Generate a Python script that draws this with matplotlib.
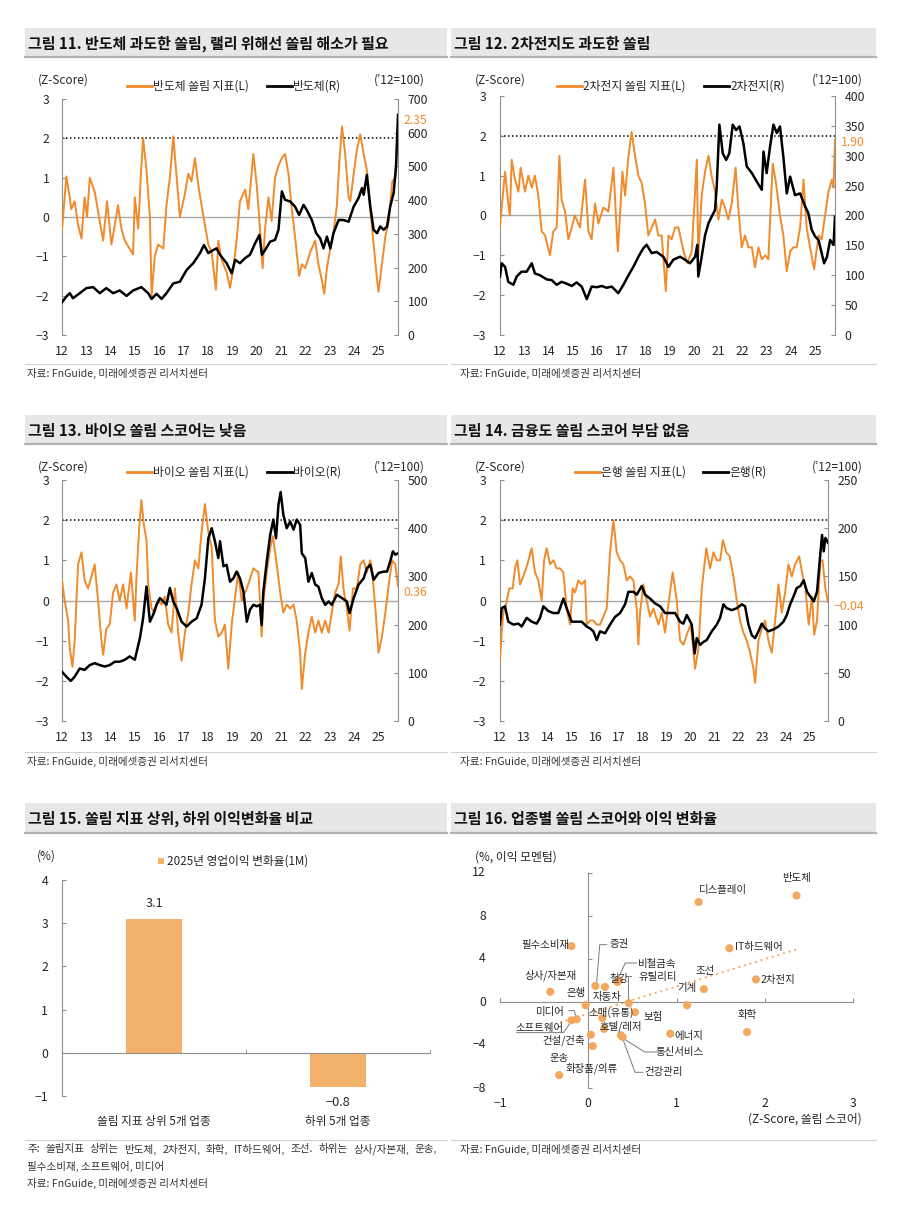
"""Sector crowding dashboard: z-score vs index panels, earnings bar, crowding scatter."""
import numpy as np
import matplotlib
matplotlib.use("Agg")
import matplotlib.pyplot as plt
from matplotlib.lines import Line2D
from matplotlib.patches import Rectangle
from matplotlib.transforms import blended_transform_factory as blend

plt.rcParams["font.family"] = ["Noto Sans CJK KR", "DejaVu Sans"]
plt.rcParams["axes.unicode_minus"] = True

W, H = 900, 1218
ORANGE = "#F08A2A"
LIGHT = "#F3B16C"
DOT = "#F2A95F"
AXIS = "#8f8f8f"
INK = "#262626"

# ---- 그림 11: 반도체 쏠림 지표(L, z-score) / 반도체 지수(R, '12=100) ----
semi_z = [(12.00, -0.32), (12.18, 1.03), (12.32, 0.50), (12.38, 0.20), (12.52, 0.40), (12.66, -0.20),
          (12.80, -0.55), (12.93, 0.50), (13.03, 0.00), (13.14, 1.00), (13.34, 0.65), (13.52, 0.00),
          (13.69, -0.60), (13.85, 0.40), (14.03, -0.70), (14.17, -0.20), (14.30, 0.30), (14.44, -0.30),
          (14.58, -0.60), (14.72, -0.75), (14.92, -0.95), (14.99, 0.50), (15.13, -0.30), (15.26, 1.30),
          (15.33, 2.00), (15.47, 1.20), (15.61, 0.00), (15.68, -2.00), (15.81, -1.00), (15.95, -0.70),
          (16.16, -0.80), (16.29, 0.30), (16.43, 1.00), (16.57, 2.05), (16.71, 1.00), (16.84, 0.00),
          (17.05, 0.60), (17.19, 1.10), (17.32, 0.90), (17.46, 1.50), (17.60, 0.80), (17.73, 0.30),
          (17.87, -0.20), (18.01, -0.70), (18.15, -0.90), (18.32, -1.85), (18.42, -0.60), (18.56, -1.10),
          (18.76, -1.40), (18.90, -1.80), (19.04, -1.30), (19.17, -0.60), (19.31, 0.40), (19.52, 0.70),
          (19.65, 0.20), (19.86, 1.60), (20.00, 0.80), (20.13, -0.30), (20.24, -1.30), (20.34, -0.30),
          (20.48, 0.50), (20.61, -0.10), (20.75, 1.00), (20.89, 1.30), (21.03, 1.50), (21.16, 1.60),
          (21.30, 1.10), (21.44, 0.20), (21.57, -0.50), (21.74, -1.50), (21.85, -1.20), (21.99, -1.30),
          (22.19, -0.90), (22.40, -0.60), (22.53, -1.20), (22.67, -1.60), (22.77, -1.95), (22.88, -1.30),
          (23.02, -0.80), (23.15, -0.40), (23.29, 0.30), (23.40, 1.50), (23.50, 2.30), (23.63, 1.60),
          (23.77, 0.50), (23.84, 0.40), (23.98, 1.10), (24.11, 1.70), (24.25, 2.10), (24.39, 1.60),
          (24.52, 1.20), (24.66, 0.20), (24.80, -0.70), (24.94, -1.60), (25.00, -1.90), (25.14, -1.20),
          (25.28, -0.50), (25.42, -0.10), (25.56, 0.90), (25.69, 1.00), (25.80, 2.35)]
semi_idx = [(12.00, 97), (12.18, 114), (12.32, 124), (12.45, 109), (12.73, 124), (13.00, 139),
            (13.28, 142), (13.55, 124), (13.82, 139), (14.10, 124), (14.37, 132), (14.65, 116),
            (14.92, 132), (15.26, 142), (15.54, 124), (15.68, 107), (15.88, 122), (16.09, 107),
            (16.29, 124), (16.57, 153), (16.84, 158), (17.12, 193), (17.39, 213), (17.67, 243),
            (17.83, 267), (18.01, 243), (18.21, 252), (18.35, 257), (18.49, 238), (18.76, 213),
            (18.97, 183), (19.11, 223), (19.31, 213), (19.52, 228), (19.72, 238), (19.93, 272),
            (20.11, 297), (20.21, 238), (20.34, 252), (20.55, 277), (20.75, 282), (20.89, 312),
            (21.03, 426), (21.16, 401), (21.37, 396), (21.57, 381), (21.74, 356), (21.92, 386),
            (22.05, 371), (22.26, 341), (22.44, 302), (22.60, 287), (22.74, 257), (22.88, 292),
            (23.02, 257), (23.15, 302), (23.36, 341), (23.56, 341), (23.77, 336), (23.98, 381),
            (24.18, 406), (24.32, 436), (24.39, 416), (24.52, 475), (24.66, 381), (24.80, 312),
            (24.94, 302), (25.07, 322), (25.21, 312), (25.35, 322), (25.48, 381), (25.62, 421),
            (25.72, 500), (25.80, 653)]

# ---- 그림 12: 2차전지 ----
batt_z = [(12.00, -0.30), (12.07, 0.20), (12.21, 1.10), (12.34, 0.30), (12.41, 0.00), (12.48, 1.40),
          (12.62, 0.90), (12.76, 0.60), (12.85, 1.20), (13.03, 0.60), (13.17, 1.00), (13.31, 0.70),
          (13.44, 1.00), (13.58, 0.50), (13.72, -0.40), (13.86, -0.50), (14.06, -1.00), (14.20, -0.40),
          (14.34, -0.30), (14.45, 1.50), (14.54, 0.40), (14.68, 0.10), (14.82, -0.60), (14.96, -0.30),
          (15.09, 0.00), (15.30, -0.30), (15.51, 0.90), (15.65, -0.40), (15.78, -0.60), (15.92, 0.30),
          (16.06, -0.20), (16.26, 0.20), (16.47, 0.10), (16.68, 1.20), (16.86, -0.90), (16.95, 0.00),
          (17.05, 1.10), (17.16, 0.50), (17.30, 1.50), (17.43, 2.10), (17.57, 1.50), (17.71, 1.00),
          (17.85, 0.80), (17.98, 0.30), (18.12, -0.50), (18.26, -0.30), (18.40, -0.10), (18.53, -0.50),
          (18.67, -0.50), (18.84, -1.90), (18.95, -0.50), (19.08, -0.60), (19.22, -0.30), (19.36, -0.30),
          (19.57, -0.90), (19.73, -1.20), (19.91, -0.90), (20.12, 1.40), (20.18, -1.00), (20.32, 0.50),
          (20.46, 1.10), (20.60, 1.50), (20.73, 1.00), (20.87, 0.60), (21.01, -0.10), (21.15, 0.40),
          (21.28, 0.20), (21.42, -0.10), (21.56, 0.30), (21.72, 1.20), (21.83, 0.20), (21.97, -0.80),
          (22.11, -0.50), (22.25, -0.80), (22.39, -0.80), (22.52, -1.30), (22.66, -0.80), (22.80, -1.10),
          (22.94, -1.00), (23.07, -1.10), (23.25, 1.30), (23.39, 0.80), (23.55, 0.00), (23.69, -0.50),
          (23.83, -1.40), (23.97, -0.90), (24.10, -0.80), (24.24, -0.80), (24.38, -0.30), (24.52, 0.90),
          (24.65, -0.30), (24.79, -0.80), (24.96, -1.35), (25.14, -0.50), (25.27, -0.60), (25.41, 0.00),
          (25.55, 0.60), (25.69, 0.90), (25.76, 0.70), (25.82, 1.90)]
batt_idx = [(12.00, 98), (12.07, 120), (12.21, 114), (12.34, 89), (12.55, 84), (12.69, 98), (12.89, 106),
            (13.10, 106), (13.31, 120), (13.44, 103), (13.65, 100), (13.93, 93), (14.13, 92), (14.34, 84),
            (14.54, 89), (14.75, 86), (14.96, 82), (15.16, 88), (15.37, 81), (15.58, 60), (15.78, 81),
            (15.99, 80), (16.20, 82), (16.40, 79), (16.61, 81), (16.88, 70), (17.09, 84), (17.30, 100),
            (17.50, 114), (17.71, 131), (17.91, 145), (18.05, 151), (18.26, 137), (18.46, 139),
            (18.74, 131), (18.95, 114), (19.15, 126), (19.43, 131), (19.63, 126), (19.84, 120),
            (20.05, 131), (20.14, 151), (20.18, 98), (20.32, 131), (20.46, 167), (20.60, 187), (20.73, 198),
            (20.87, 209), (20.94, 248), (21.05, 352), (21.19, 304), (21.33, 293), (21.46, 304), (21.60, 352),
            (21.74, 343), (21.88, 349), (22.04, 321), (22.18, 282), (22.39, 271), (22.59, 257), (22.80, 243),
            (22.87, 307), (23.00, 271), (23.14, 315), (23.28, 352), (23.42, 338), (23.55, 349), (23.69, 298),
            (23.83, 237), (23.97, 265), (24.17, 234), (24.38, 237), (24.59, 215), (24.72, 204), (24.86, 176),
            (25.00, 165), (25.14, 159), (25.27, 137), (25.37, 120), (25.49, 131), (25.62, 159), (25.76, 151),
            (25.82, 198)]

# ---- 그림 13: 바이오 ----
bio_z = [(12.00, 0.50), (12.11, 0.00), (12.25, -0.50), (12.32, -1.20), (12.43, -1.65), (12.52, -1.00),
         (12.66, 0.90), (12.80, 1.20), (12.93, 0.50), (13.07, 0.30), (13.21, 0.60), (13.34, 0.90),
         (13.48, 0.00), (13.62, -1.00), (13.69, -1.35), (13.82, -0.70), (13.96, -0.60), (14.10, 0.20),
         (14.24, 0.40), (14.37, 0.00), (14.51, 0.40), (14.65, -0.20), (14.83, 0.70), (14.99, -0.50),
         (15.06, 0.60), (15.17, 1.80), (15.26, 2.50), (15.36, 1.90), (15.47, 1.50), (15.54, 0.40),
         (15.68, -0.20), (15.81, -0.30), (15.95, 0.00), (16.09, -0.10), (16.22, 0.10), (16.36, -0.60),
         (16.50, -0.80), (16.64, 0.30), (16.77, -0.80), (16.91, -1.50), (17.05, -0.80), (17.19, -0.30),
         (17.32, 0.40), (17.46, 1.00), (17.60, 0.80), (17.73, 1.70), (17.87, 2.40), (18.01, 1.70),
         (18.15, 1.30), (18.28, -0.50), (18.42, -0.90), (18.56, -0.80), (18.69, -0.60), (18.83, -1.70),
         (18.97, -0.60), (19.11, 0.10), (19.24, 0.70), (19.38, 0.00), (19.52, 0.20), (19.65, 0.40),
         (19.86, 0.80), (20.07, 0.70), (20.20, -0.90), (20.27, 0.00), (20.41, 0.70), (20.55, 1.30),
         (20.66, 1.60), (20.82, 0.90), (20.96, 0.20), (21.09, -0.30), (21.23, -0.10), (21.37, -0.20),
         (21.51, -0.10), (21.64, -0.50), (21.78, -1.30), (21.85, -2.20), (21.99, -1.30), (22.12, -0.80),
         (22.26, -0.40), (22.40, -0.80), (22.53, -0.50), (22.67, -0.80), (22.81, -0.50), (22.95, -0.80),
         (23.08, -0.30), (23.22, 0.20), (23.36, 0.40), (23.45, 1.10), (23.56, 0.30), (23.70, -0.20),
         (23.81, -0.75), (23.95, 0.30), (24.11, 0.30), (24.25, 0.90), (24.39, 1.00), (24.52, 0.70),
         (24.66, 1.00), (24.73, 0.80), (24.87, -0.20), (25.00, -1.30), (25.14, -0.90), (25.28, -0.30),
         (25.42, 0.40), (25.56, 1.00), (25.69, 0.90), (25.80, 0.36)]
bio_idx = [(12.00, 102), (12.18, 92), (12.36, 83), (12.52, 92), (12.73, 109), (12.93, 106), (13.14, 116),
           (13.34, 120), (13.55, 116), (13.76, 113), (13.96, 116), (14.17, 123), (14.37, 123), (14.58, 127),
           (14.78, 134), (14.99, 127), (15.20, 172), (15.33, 213), (15.47, 279), (15.61, 206), (15.74, 220),
           (15.88, 241), (16.02, 255), (16.16, 248), (16.29, 241), (16.43, 276), (16.57, 248), (16.71, 234),
           (16.91, 206), (17.12, 196), (17.32, 206), (17.53, 213), (17.73, 241), (17.87, 296), (18.01, 379),
           (18.15, 400), (18.28, 373), (18.42, 338), (18.49, 373), (18.63, 321), (18.76, 324), (18.90, 289),
           (19.04, 296), (19.17, 310), (19.31, 296), (19.45, 269), (19.59, 206), (19.72, 231), (19.86, 241),
           (20.00, 238), (20.13, 241), (20.20, 199), (20.27, 269), (20.41, 331), (20.55, 386), (20.68, 418),
           (20.79, 379), (20.89, 449), (20.98, 475), (21.09, 428), (21.23, 400), (21.37, 414), (21.51, 397),
           (21.64, 418), (21.78, 407), (21.85, 348), (21.99, 338), (22.12, 289), (22.26, 307), (22.40, 283),
           (22.53, 279), (22.67, 255), (22.81, 241), (22.95, 248), (23.08, 241), (23.29, 262), (23.50, 255),
           (23.70, 248), (23.81, 224), (23.98, 255), (24.18, 283), (24.39, 296), (24.52, 317), (24.66, 324),
           (24.80, 293), (25.00, 307), (25.21, 310), (25.35, 310), (25.48, 331), (25.59, 352), (25.69, 345),
           (25.80, 348)]

# ---- 그림 14: 은행 ----
bank_z = [(12.00, -1.50), (12.07, -0.80), (12.14, -0.30), (12.25, -0.10), (12.39, 0.30), (12.53, 0.30),
          (12.63, 0.80), (12.73, 1.00), (12.84, 0.40), (12.98, 0.60), (13.15, 0.90), (13.33, 1.30),
          (13.47, 0.70), (13.61, 0.50), (13.75, 0.00), (13.85, 1.00), (13.96, 1.30), (14.10, 0.90),
          (14.24, 1.00), (14.38, 0.80), (14.52, 0.80), (14.66, 0.70), (14.80, -0.20), (14.94, -0.60),
          (15.05, 0.30), (15.15, 0.20), (15.29, 0.50), (15.43, 0.40), (15.57, 0.50), (15.64, -0.60),
          (15.78, -0.50), (15.92, -0.50), (16.06, -0.60), (16.20, -0.60), (16.34, -0.40), (16.48, -0.20),
          (16.62, 1.20), (16.76, 2.00), (16.90, 1.20), (17.04, 1.00), (17.18, 0.90), (17.32, 0.50),
          (17.46, 0.60), (17.60, 0.50), (17.74, -0.20), (17.81, -1.10), (17.88, -0.30), (18.02, 0.40),
          (18.16, 0.00), (18.30, -0.40), (18.44, -0.20), (18.65, -0.60), (18.79, -0.30), (18.93, -0.80),
          (19.07, -0.10), (19.25, 0.70), (19.42, 0.00), (19.56, -1.00), (19.70, -1.10), (19.87, -0.80),
          (20.01, -0.60), (20.19, -1.70), (20.33, -1.20), (20.47, 0.30), (20.66, 1.30), (20.82, 0.80),
          (20.96, 1.20), (21.10, 1.00), (21.24, 1.00), (21.36, 1.50), (21.50, 1.20), (21.64, 1.10),
          (21.80, 0.60), (21.94, 0.00), (22.08, -0.50), (22.22, -0.80), (22.36, -1.00), (22.50, -1.30),
          (22.64, -1.70), (22.71, -2.05), (22.85, -1.00), (22.99, -0.70), (23.13, -0.50), (23.27, -1.00),
          (23.41, -1.30), (23.55, -0.50), (23.69, 0.40), (23.83, -0.30), (23.97, 0.20), (24.11, 0.90),
          (24.25, 0.60), (24.39, 0.90), (24.56, 1.10), (24.68, 0.70), (24.82, 0.30), (24.96, -0.60),
          (25.10, 0.10), (25.19, -0.85), (25.31, -0.50), (25.45, 1.00), (25.54, 1.00), (25.66, 0.30),
          (25.77, -0.04)]
bank_idx = [(12.00, 100), (12.07, 117), (12.21, 119), (12.35, 103), (12.56, 100), (12.77, 101), (12.91, 98),
            (13.12, 107), (13.33, 103), (13.54, 101), (13.68, 107), (13.82, 119), (14.03, 114), (14.24, 112),
            (14.45, 112), (14.66, 127), (14.80, 117), (15.01, 103), (15.22, 103), (15.43, 103), (15.64, 98),
            (15.78, 96), (15.92, 93), (16.06, 84), (16.20, 93), (16.41, 91), (16.62, 100), (16.83, 108),
            (17.04, 112), (17.25, 121), (17.39, 134), (17.60, 134), (17.74, 131), (17.95, 140), (18.09, 131),
            (18.30, 127), (18.51, 122), (18.72, 119), (18.93, 112), (19.14, 112), (19.35, 112), (19.56, 103),
            (19.70, 101), (19.84, 110), (20.05, 100), (20.17, 70), (20.26, 86), (20.40, 79), (20.54, 82),
            (20.68, 84), (20.89, 93), (21.10, 100), (21.24, 107), (21.38, 121), (21.52, 117), (21.73, 115),
            (21.94, 117), (22.15, 121), (22.29, 119), (22.43, 100), (22.57, 89), (22.71, 86), (22.85, 93),
            (22.99, 101), (23.13, 96), (23.27, 93), (23.48, 95), (23.69, 98), (23.90, 103), (24.04, 110),
            (24.18, 121), (24.32, 129), (24.46, 138), (24.61, 140), (24.75, 146), (24.89, 134), (25.03, 129),
            (25.17, 124), (25.31, 134), (25.45, 174), (25.52, 193), (25.59, 176), (25.66, 190), (25.77, 185)]

# ---- 그림 15: 쏠림 상위/하위 5개 업종 2025년 영업이익 변화율(1M) ----
bar_groups = ["쏠림 지표 상위 5개 업종", "하위 5개 업종"]
bar_values = [3.1, -0.8]

# ---- 그림 16: 업종별 쏠림 스코어(x) vs 이익 모멘텀(y) ----
sectors = ["반도체", "디스플레이", "IT하드웨어", "2차전지", "조선", "기계", "화학", "에너지",
           "필수소비재", "상사/자본재", "증권", "자동차", "철강", "비철금속", "유틸리티", "은행",
           "소매(유통)", "보험", "미디어", "소프트웨어", "호텔/레저", "건설/건축", "화장품/의류",
           "통신서비스", "건강관리", "운송"]
crowd_z = [2.36, 1.25, 1.60, 1.90, 1.31, 1.12, 1.80, 0.93,
           -0.19, -0.43, 0.08, 0.19, 0.33, 0.35, 0.46, -0.03,
           0.16, 0.53, -0.13, -0.19, 0.18, 0.03, 0.05,
           0.37, 0.39, -0.33]
profit_mom = [9.9, 9.3, 5.0, 2.1, 1.2, -0.3, -2.8, -2.95,
              5.2, 0.95, 1.5, 1.4, 1.85, 2.0, -0.1, -0.3,
              -1.5, -0.95, -1.6, -1.7, -2.5, -3.05, -4.1,
              -3.1, -3.25, -6.8]
trend_x = [-0.32, 2.36]
trend_y = [-1.9, 4.9]


def rect(l, t, r, b):
    return [l / W, 1 - b / H, (r - l) / W, (b - t) / H]


def fx(x):
    return x / W


def fy(y):
    return 1 - y / H


fig = plt.figure(figsize=(W / 100, H / 100), dpi=100)
fig.patch.set_facecolor("white")
renderer = fig.canvas.get_renderer()


def header(x0, x1, y0, y1, title):
    fig.add_artist(Rectangle((fx(x0), fy(y1)), fx(x1) - fx(x0), fy(y0) - fy(y1),
                             transform=fig.transFigure, facecolor="#e7e7e7", edgecolor="none"))
    fig.add_artist(Line2D([fx(x0), fx(x1)], [fy(y1), fy(y1)], color="#b3b3b3", lw=1.6))
    fig.text(fx(x0 + 3), fy((y0 + y1) / 2 + 1), title, fontsize=10.8, fontweight="bold",
             color="#111111", va="center", ha="left")


def footer(x0, x1, yline, lines, justify_first=False):
    fig.add_artist(Line2D([fx(x0), fx(x1)], [fy(yline), fy(yline)], color="#d0d0d0", lw=0.8))
    for i, txt in enumerate(lines):
        y = fy(yline + 9 + 17 * i)
        if justify_first and i == 0:
            # spread the words over the full width, like the justified source note
            words = txt.split(" ")
            arts = [fig.text(0, y, w, fontsize=7.6, color="#333333", va="center", ha="left")
                    for w in words]
            widths = [a.get_window_extent(renderer).width for a in arts]
            gap = ((x1 - 12 - x0) - sum(widths)) / (len(words) - 1)
            pos = x0 + 2
            for a, wd in zip(arts, widths):
                a.set_x(fx(pos))
                pos += wd + gap
        else:
            fig.text(fx(x0 + 2), y, txt, fontsize=7.6, color="#333333", va="center", ha="left")


def legend_line(x, y, color, label):
    fig.add_artist(Line2D([fx(x), fx(x + 25)], [fy(y), fy(y)], color=color, lw=2.0))
    fig.text(fx(x + 26), fy(y), label, fontsize=8.5, color=INK, va="center", ha="left")


def ts_panel(box, z_pts, idx_pts, rmax, rstep, end, last_txt, last_dy, lpad):
    ax = fig.add_axes(rect(*box))
    ax2 = ax.twinx()
    zt, zv = zip(*z_pts)
    it, iv = zip(*idx_pts)
    ax.axhline(0, color="#a8a8a8", lw=1.0, zorder=1)
    ax.axhline(2, color="black", lw=1.1, ls=(0, (1, 1.6)), zorder=2)
    ax.plot(zt, zv, color=ORANGE, lw=1.4, zorder=3)
    ax2.plot(it, iv, color="black", lw=1.8)
    ax.set_xlim(12, end)
    ax.set_ylim(-3, 3)
    ax2.set_ylim(0, rmax)
    ax.set_yticks(range(-3, 4))
    ax2.set_yticks(np.arange(0, rmax + 1, rstep))
    ax.set_xticks(range(12, 26))
    ax.set_xticklabels([str(y) for y in range(12, 26)])
    for a in (ax, ax2):
        a.spines["top"].set_visible(False)
        a.spines["bottom"].set_visible(False)
    ax.spines["right"].set_visible(False)
    ax2.spines["left"].set_visible(False)
    ax.spines["left"].set_color(AXIS)
    ax2.spines["right"].set_color(AXIS)
    ax.tick_params(axis="y", direction="in", length=3, color=AXIS, pad=lpad,
                   labelsize=8.8, labelcolor=INK)
    ax.tick_params(axis="x", length=0, pad=7, labelsize=8.8, labelcolor=INK)
    ax2.tick_params(axis="y", direction="in", length=3, color=AXIS, pad=7,
                    labelsize=8.8, labelcolor=INK)
    ax.annotate(last_txt, xy=(1, zv[-1]), xycoords=("axes fraction", "data"),
                xytext=(4, last_dy), textcoords="offset points", color=ORANGE,
                fontsize=8.8, va="center", ha="left", annotation_clip=False)
    return ax


# ---- headers ----
header(25, 447, 28, 57, "그림 11. 반도체 과도한 쏠림, 랠리 위해선 쏠림 해소가 필요")
header(451, 876, 28, 57, "그림 12. 2차전지도 과도한 쏠림")
header(25, 447, 415, 444, "그림 13. 바이오 쏠림 스코어는 낮음")
header(451, 876, 415, 444, "그림 14. 금융도 쏠림 스코어 부담 없음")
header(25, 447, 803, 833, "그림 15. 쏠림 지표 상위, 하위 이익변화율 비교")
header(451, 876, 803, 833, "그림 16. 업종별 쏠림 스코어와 이익 변화율")

src = "자료: FnGuide, 미래에셋증권 리서치센터"

# ---- time-series panels ----
ts_panel((62, 99, 398, 335), semi_z, semi_idx, 700, 100, 25.80, "2.35", 3, 9)
ts_panel((500, 96, 835, 335), batt_z, batt_idx, 400, 50, 25.82, "1.90", -2, 10)
ts_panel((62, 480, 398, 721), bio_z, bio_idx, 500, 100, 25.80, "0.36", -5, 9)
ts_panel((500, 480, 828, 721), bank_z, bank_idx, 250, 50, 25.77, "\u22120.04", -3, 10)

for (xl, xr, y) in [(38, 425, 80), (475, 863, 80), (38, 425, 467), (475, 863, 467)]:
    fig.text(fx(xl), fy(y), "(Z-Score)", fontsize=8.5, color=INK, va="center", ha="left")
    fig.text(fx(xr), fy(y), "(\u201912=100)", fontsize=8.5, color=INK, va="center", ha="right")

legend_line(127, 86, ORANGE, "반도체 쏠림 지표(L)")
legend_line(267, 86, "black", "반도체(R)")
legend_line(557, 86, ORANGE, "2차전지 쏠림 지표(L)")
legend_line(704, 86, "black", "2차전지(R)")
legend_line(127, 472, ORANGE, "바이오 쏠림 지표(L)")
legend_line(267, 472, "black", "바이오(R)")
legend_line(575, 472, ORANGE, "은행 쏠림 지표(L)")
legend_line(703, 472, "black", "은행(R)")

footer(25, 447, 364, [src])
footer(451, 876, 364, ["   " + src])
footer(25, 447, 752, [src])
footer(451, 876, 752, ["   " + src])

# ---- 그림 15: bar ----
axb = fig.add_axes(rect(62, 880, 430, 1096))
xpos = np.arange(len(bar_values))
axb.bar(xpos, bar_values, width=0.30, color=LIGHT, zorder=2)
axb.set_xlim(-0.5, 1.5)
axb.set_ylim(-1, 4)
axb.spines["top"].set_visible(False)
axb.spines["right"].set_visible(False)
axb.spines["bottom"].set_position(("data", 0))
axb.spines["left"].set_color(AXIS)
axb.spines["bottom"].set_color(AXIS)
axb.set_yticks(range(-1, 5))
axb.set_xticks([])
axb.set_xticks([0.5, 1.5], minor=True)
axb.tick_params(axis="y", direction="in", length=3, color=AXIS, pad=10, labelsize=8.8, labelcolor=INK)
axb.tick_params(axis="x", which="minor", direction="in", length=3, color=AXIS)
for xi, v in zip(xpos, bar_values):
    axb.annotate(f"{v:.1f}".replace("-", "\u2212"), xy=(xi, v), xytext=(0, 11 if v > 0 else -11),
                 textcoords="offset points", ha="center", va="center", fontsize=9.2, color=INK)
tr = blend(axb.transData, axb.transAxes)
for xi, name in zip(xpos, bar_groups):
    axb.text(xi, -0.12, name, transform=tr, ha="center", va="center", fontsize=8.4, color=INK)
fig.text(fx(46), fy(856), "(%)", fontsize=8.5, color=INK, ha="center", va="center")
fig.add_artist(Rectangle((fx(158), fy(864)), 6 / W, 6 / H, transform=fig.transFigure,
                         facecolor=LIGHT, edgecolor="none"))
fig.text(fx(167), fy(861), "2025년 영업이익 변화율(1M)", fontsize=8.4, color=INK, ha="left", va="center")
footer(25, 447, 1140, ["주: 쏠림지표 상위는 반도체, 2차전지, 화학, IT하드웨어, 조선. 하위는 상사/자본재, 운송,",
                       "필수소비재, 소프트웨어, 미디어", src], justify_first=True)

# ---- 그림 16: scatter ----
axs = fig.add_axes(rect(500, 873, 853, 1088))
axs.set_xlim(-1, 3)
axs.set_ylim(-8, 12)
for s in ("top", "right"):
    axs.spines[s].set_visible(False)
axs.spines["left"].set_position(("data", 0))
axs.spines["bottom"].set_position(("data", 0))
axs.spines["left"].set_color(AXIS)
axs.spines["bottom"].set_color(AXIS)
xt = [-1, 0, 1, 2, 3]
yt = [-8, -4, 0, 4, 8, 12]
axs.set_xticks(xt)
axs.set_yticks(yt)
axs.tick_params(direction="in", length=3, color=AXIS, labelleft=False, labelbottom=False)
ty = blend(axs.transAxes, axs.transData)
tx = blend(axs.transData, axs.transAxes)
for v in yt:
    axs.text(-0.04, v, str(v).replace("-", "\u2212"), transform=ty, ha="right", va="center",
             fontsize=8.8, color=INK)
for v in xt:
    axs.text(v, -0.07, str(v).replace("-", "\u2212"), transform=tx, ha="center", va="center",
             fontsize=8.8, color=INK)
axs.plot(trend_x, trend_y, color=DOT, lw=1.4, ls=(0, (1, 2)), zorder=1)
axs.scatter(crowd_z, profit_mom, s=34, color=DOT, edgecolors="none", zorder=3)

label_pos = {
    "반도체": (2.36, 11.5, "center"), "디스플레이": (1.53, 10.4, "center"),
    "IT하드웨어": (1.66, 5.15, "left"), "2차전지": (1.95, 2.05, "left"),
    "조선": (1.32, 2.85, "center"), "기계": (1.12, 1.3, "center"),
    "화학": (1.80, -1.2, "center"), "에너지": (0.98, -3.15, "left"),
    "필수소비재": (-0.21, 5.3, "right"), "상사/자본재": (-0.43, 2.5, "center"),
    "증권": (0.35, 5.35, "center"), "자동차": (0.215, 0.5, "center"),
    "철강": (0.35, 2.1, "center"), "비철금속": (0.78, 3.55, "center"),
    "유틸리티": (0.79, 2.3, "center"), "은행": (-0.14, 0.8, "center"),
    "소매(유통)": (0.26, -0.93, "center"), "보험": (0.74, -1.4, "center"),
    "미디어": (-0.43, -0.95, "center"), "소프트웨어": (-0.55, -2.42, "center"),
    "호텔/레저": (0.37, -2.26, "center"), "건설/건축": (-0.28, -3.57, "center"),
    "화장품/의류": (0.04, -6.14, "center"), "통신서비스": (1.03, -4.65, "center"),
    "건강관리": (0.85, -6.54, "center"), "운송": (-0.33, -5.2, "center"),
}
for name in sectors:
    lx, ly, ha = label_pos[name]
    axs.text(lx, ly, name, ha=ha, va="center", fontsize=7.5, color=INK, zorder=4)

leaders = [
    [(0.21, 5.33), (0.13, 5.33), (0.095, 1.8)],
    [(0.55, 3.63), (0.42, 3.63), (0.35, 2.4)],
    [(0.49, 2.38), (0.45, 2.38), (0.45, 0.15)],
    [(-0.22, -0.8), (-0.16, -0.8), (-0.14, -1.35)],
    [(-0.81, -2.85), (-0.28, -2.85), (-0.2, -1.9)],
    [(0.38, -3.3), (0.64, -4.65), (0.77, -4.65)],
    [(0.39, -3.4), (0.53, -6.54), (0.62, -6.54)],
]
for pts in leaders:
    lx, ly = zip(*pts)
    axs.plot(lx, ly, color="#7a7a7a", lw=0.7, zorder=2)

fig.text(fx(475), fy(857), "(%, 이익 모멘텀)", fontsize=8.5, color=INK, ha="left", va="center")
fig.text(fx(862), fy(1119), "(Z-Score, 쏠림 스코어)", fontsize=8.5, color=INK, ha="right", va="center")
footer(451, 876, 1140, ["   " + src])

fig.savefig("out.png", dpi=100)
